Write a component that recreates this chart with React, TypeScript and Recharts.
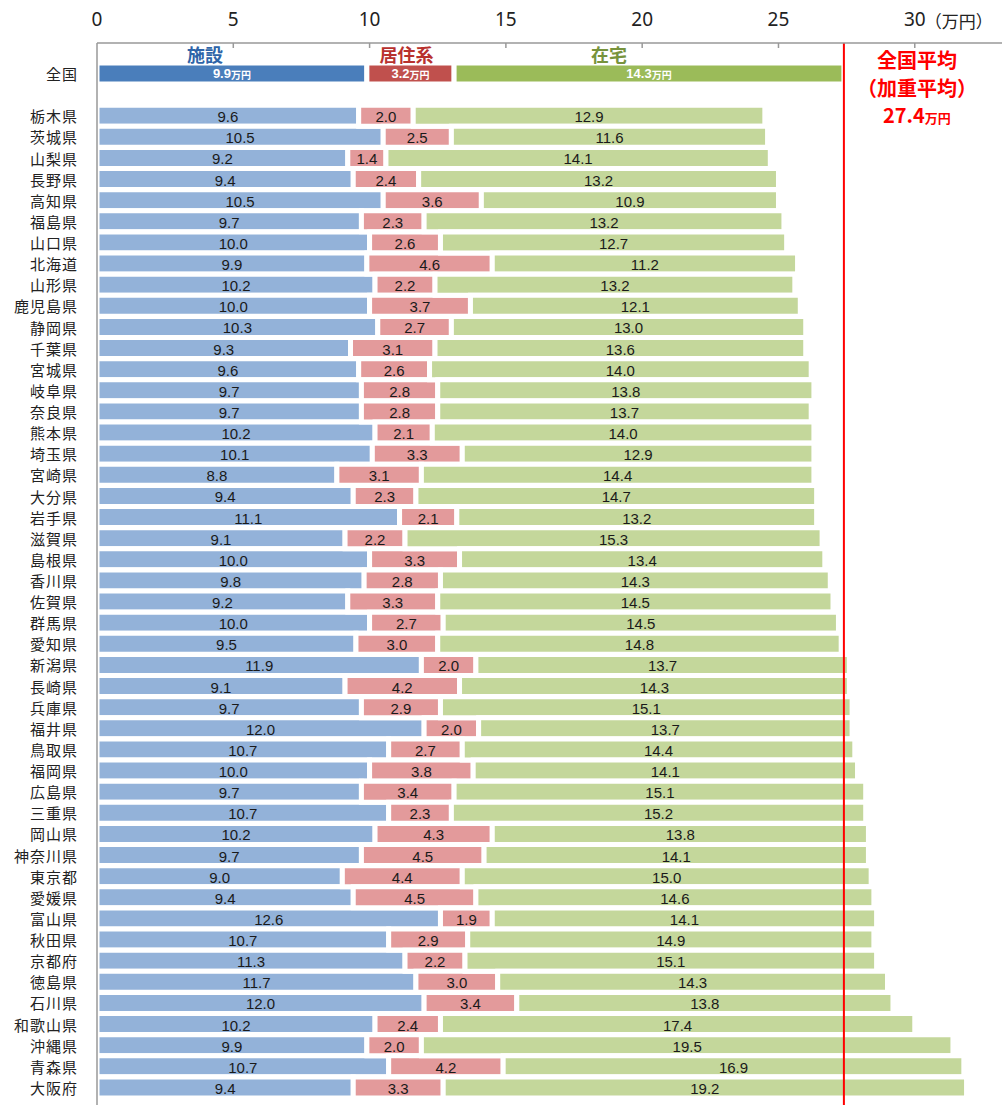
import React from "react";
import { BarChart, Bar, XAxis, YAxis, Cell, LabelList, ReferenceLine } from "recharts";

// 全国 (national weighted average) row
const nationalName = "全国";
const nationalValues = [9.9, 3.2, 14.3];
const nationalTotal = 27.4;

const prefectures = [
  "栃木県", "茨城県", "山梨県", "長野県", "高知県", "福島県", "山口県", "北海道", "山形県", "鹿児島県",
  "静岡県", "千葉県", "宮城県", "岐阜県", "奈良県", "熊本県", "埼玉県", "宮崎県", "大分県", "岩手県",
  "滋賀県", "島根県", "香川県", "佐賀県", "群馬県", "愛知県", "新潟県", "長崎県", "兵庫県", "福井県",
  "鳥取県", "福岡県", "広島県", "三重県", "岡山県", "神奈川県", "東京都", "愛媛県", "富山県", "秋田県",
  "京都府", "徳島県", "石川県", "和歌山県", "沖縄県", "青森県", "大阪府",
];

// 施設
const facility = [
  9.6, 10.5, 9.2, 9.4, 10.5, 9.7, 10.0, 9.9, 10.2, 10.0,
  10.3, 9.3, 9.6, 9.7, 9.7, 10.2, 10.1, 8.8, 9.4, 11.1,
  9.1, 10.0, 9.8, 9.2, 10.0, 9.5, 11.9, 9.1, 9.7, 12.0,
  10.7, 10.0, 9.7, 10.7, 10.2, 9.7, 9.0, 9.4, 12.6, 10.7,
  11.3, 11.7, 12.0, 10.2, 9.9, 10.7, 9.4,
];

// 居住系
const residential = [
  2.0, 2.5, 1.4, 2.4, 3.6, 2.3, 2.6, 4.6, 2.2, 3.7,
  2.7, 3.1, 2.6, 2.8, 2.8, 2.1, 3.3, 3.1, 2.3, 2.1,
  2.2, 3.3, 2.8, 3.3, 2.7, 3.0, 2.0, 4.2, 2.9, 2.0,
  2.7, 3.8, 3.4, 2.3, 4.3, 4.5, 4.4, 4.5, 1.9, 2.9,
  2.2, 3.0, 3.4, 2.4, 2.0, 4.2, 3.3,
];

// 在宅
const homeCare = [
  12.9, 11.6, 14.1, 13.2, 10.9, 13.2, 12.7, 11.2, 13.2, 12.1,
  13.0, 13.6, 14.0, 13.8, 13.7, 14.0, 12.9, 14.4, 14.7, 13.2,
  15.3, 13.4, 14.3, 14.5, 14.5, 14.8, 13.7, 14.3, 15.1, 13.7,
  14.4, 14.1, 15.1, 15.2, 13.8, 14.1, 15.0, 14.6, 14.1, 14.9,
  15.1, 14.3, 13.8, 17.4, 19.5, 16.9, 19.2,
];

const xTicks = [0, 5, 10, 15, 20, 25, 30];

const series = [
  { key: "facility", title: "施設", dark: "#4a7ebb", light: "#93b2d9", titleColor: "#2e64a8", titleDx: -27 },
  { key: "residential", title: "居住系", dark: "#c0504d", light: "#e39a9b", titleColor: "#b8312e", titleDx: -4 },
  { key: "homeCare", title: "在宅", dark: "#9bbb59", light: "#c4d79b", titleColor: "#77933c", titleDx: -40 },
];

const rows = [
  { name: nationalName, facility: nationalValues[0], residential: nationalValues[1], homeCare: nationalValues[2] },
  { name: " ", facility: null, residential: null, homeCare: null },
  ...prefectures.map((p, i) => ({ name: p, facility: facility[i], residential: residential[i], homeCare: homeCare[i] })),
];

const CJK = "'Noto Sans CJK JP', 'Noto Sans', sans-serif";
const NUM = "'Liberation Sans', Arial, sans-serif";

function TopTick(props: any) {
  const { x, y, payload } = props;
  return (
    <g>
      {payload.value !== 0 && <line x1={x} y1={y} x2={x} y2={y + 5} stroke="#999" strokeWidth={1.5} />}
      <text x={x} y={y - 17} textAnchor="middle" fontFamily="'Noto Sans', sans-serif" fontSize={19} fill="#222">
        {payload.value}
      </text>
      {payload.value === 30 && (
        <text x={x + 44} y={y - 15} textAnchor="middle" fontFamily={CJK} fontSize={17} fill="#222">
          （万円）
        </text>
      )}
    </g>
  );
}

function LeftTick(props: any) {
  const { x, y, payload } = props;
  return (
    <text x={x - 19} y={y} textAnchor="end" dominantBaseline="central" fontFamily={CJK} fontSize={15} letterSpacing={1} fill="#222">
      {payload.value}
    </text>
  );
}

function makeLabel(s: (typeof series)[number]) {
  return (props: any) => {
    const { x, y, width, height, value, index } = props;
    if (value == null) return null;
    const cx = x + width / 2;
    const cy = y + height / 2;
    if (index === 0) {
      return (
        <g>
          <text x={cx + s.titleDx} y={y - 1} textAnchor="middle" fontFamily={CJK} fontWeight="bold" fontSize={18} fill={s.titleColor}>
            {s.title}
          </text>
          <text x={cx} y={cy} textAnchor="middle" dominantBaseline="central" fontFamily={NUM} fontSize={13} fontWeight="bold" fill="#fff">
            {Number(value).toFixed(1)}
            <tspan fontFamily={CJK} fontSize={10}>万円</tspan>
          </text>
        </g>
      );
    }
    return (
      <text x={cx} y={cy + 1} textAnchor="middle" dominantBaseline="central" fontFamily={NUM} fontSize={15} fill="#1a1a1a">
        {Number(value).toFixed(1)}
      </text>
    );
  };
}

function AverageLabel(props: any) {
  const { viewBox } = props;
  const cx = viewBox.x + 73;
  const top = viewBox.y;
  return (
    <g fontFamily={CJK} fontWeight="bold" fill="#ff0000" textAnchor="middle">
      <text x={cx} y={top + 25} fontSize={20}>全国平均</text>
      <text x={cx} y={top + 53} fontSize={20}>（加重平均）</text>
      <text x={cx} y={top + 80} fontSize={20}>
        {nationalTotal.toFixed(1)}
        <tspan fontSize={13}>万円</tspan>
      </text>
    </g>
  );
}

export default function App() {
  return (
    <div style={{ position: "absolute", left: 0, top: 0, background: "#fff" }}>
      <BarChart
        width={1002}
        height={1105}
        data={rows}
        layout="vertical"
        margin={{ top: 8, right: 0, bottom: 0, left: 0 }}
        barCategoryGap={0}
      >
        <XAxis
          type="number"
          orientation="top"
          domain={[0, 33.2]}
          ticks={xTicks}
          allowDataOverflow
          height={35}
          tickSize={0}
          tickMargin={0}
          tickLine={false}
          axisLine={{ stroke: "#999", strokeWidth: 1.5 }}
          tick={<TopTick />}
        />
        <YAxis
          type="category"
          dataKey="name"
          width={97}
          tickSize={0}
          tickMargin={0}
          tickLine={false}
          interval={0}
          padding={{ top: 20, bottom: 7 }}
          axisLine={{ stroke: "#999", strokeWidth: 1.5 }}
          tick={<LeftTick />}
        />
        {series.map((s) => (
          <Bar key={s.key} dataKey={s.key} stackId="a" stroke="#fff" strokeWidth={5} isAnimationActive={false}>
            {rows.map((_, i) => (
              <Cell key={i} fill={i === 0 ? s.dark : s.light} />
            ))}
            <LabelList dataKey={s.key} content={makeLabel(s)} />
          </Bar>
        ))}
        <ReferenceLine x={nationalTotal} stroke="#ff0000" strokeWidth={2} label={<AverageLabel />} />
      </BarChart>
    </div>
  );
}
